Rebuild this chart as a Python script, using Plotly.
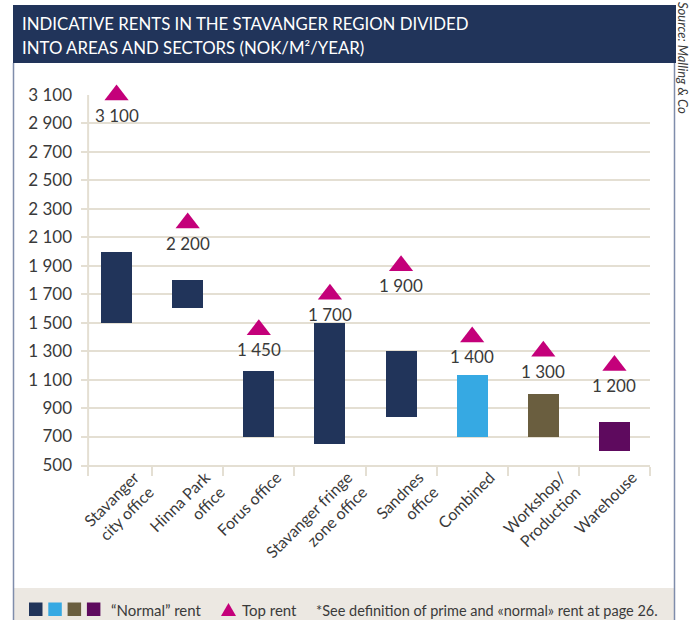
import plotly.graph_objects as go

# ---------------- data ----------------
categories = ["Stavanger<br>city office", "Hinna Park<br>office", "Forus office",
              "Stavanger fringe<br>zone office", "Sandnes<br>office", "Combined",
              "Workshop/<br>Production", "Warehouse"]
normal_low = [1500, 1600, 700, 650, 840, 700, 700, 600]
normal_high = [2000, 1800, 1160, 1500, 1300, 1130, 1000, 800]
top_rent = [3100, 2200, 1450, 1700, 1900, 1400, 1300, 1200]
top_labels = ["3 100", "2 200", "1 450", "1 700", "1 900", "1 400", "1 300", "1 200"]
y_ticks = [500, 700, 900, 1100, 1300, 1500, 1700, 1900, 2100, 2300, 2500, 2700, 2900, 3100]
y_tick_labels = ["500", "700", "900", "1 100", "1 300", "1 500", "1 700", "1 900",
                 "2 100", "2 300", "2 500", "2 700", "2 900", "3 100"]

NAVY = "#21345a"
LIGHTBLUE = "#36a9e3"
OLIVE = "#6a5e3f"
PURPLE = "#5e0a5e"
MAGENTA = "#c4007a"
GRID = "#e4dfd3"
BEIGE = "#ece8e2"
FRAME = "#7f8dab"
TEXT = "#3a3a3a"
FONT = "Lato"

bar_colors = [NAVY, NAVY, NAVY, NAVY, NAVY, LIGHTBLUE, OLIVE, PURPLE]
idx = list(range(len(categories)))

W, H = 691, 620
ML, MR, MT, MB = 81, 41, 95, 155
PW, PH = W - ML - MR, H - MT - MB


def px(x):
    return (x - ML) / PW


def py(y):
    return (H - MB - y) / PH


fig = go.Figure()
fig.add_trace(go.Bar(
    x=idx, y=[h - l for h, l in zip(normal_high, normal_low)], base=normal_low,
    width=0.436, marker=dict(color=bar_colors, line=dict(width=0)),
    showlegend=False, hoverinfo="skip"))
fig.add_trace(go.Scatter(
    x=idx, y=top_rent, mode="markers",
    marker=dict(symbol="triangle-up", size=21, color=MAGENTA),
    cliponaxis=False, showlegend=False, hoverinfo="skip"))

shapes = []
# y-axis line
shapes.append(dict(type="line", xref="x", yref="y", x0=-0.4, x1=-0.4, y0=500, y1=3100,
                   line=dict(color=GRID, width=2), layer="below"))
# header
shapes.append(dict(type="rect", xref="paper", yref="paper", x0=px(13), x1=px(676),
                   y0=py(63), y1=py(5), fillcolor=NAVY, line=dict(width=0)))
# footer band
shapes.append(dict(type="rect", xref="paper", yref="paper", x0=px(13), x1=px(674),
                   y0=py(620), y1=py(588), fillcolor=BEIGE, line=dict(width=0)))
# frame lines
for fx in (13.5, 674.5):
    shapes.append(dict(type="line", xref="paper", yref="paper", x0=px(fx), x1=px(fx),
                       y0=py(63), y1=py(620), line=dict(color=FRAME, width=1.5)))
# legend squares
for i, c in enumerate(bar_colors[4:]):
    x0 = 29 + i * 19.3
    shapes.append(dict(type="rect", xref="paper", yref="paper", x0=px(x0), x1=px(x0 + 13.5),
                       y0=py(616), y1=py(602.5), fillcolor=c, line=dict(width=0)))
# legend triangle
shapes.append(dict(type="path", xref="paper", yref="paper",
                   path="M {} {} L {} {} L {} {} Z".format(px(221), py(616), px(236), py(616),
                                                           px(228.5), py(603)),
                   fillcolor=MAGENTA, line=dict(width=0)))

annotations = [
    dict(text="INDICATIVE RENTS IN THE STAVANGER REGION DIVIDED", x=px(20), y=py(23),
         xref="paper", yref="paper", xanchor="left", yanchor="middle", showarrow=False,
         font=dict(family=FONT, size=16.8, color="white")),
    dict(text="INTO AREAS AND SECTORS (NOK/M²/YEAR)", x=px(20), y=py(47),
         xref="paper", yref="paper", xanchor="left", yanchor="middle", showarrow=False,
         font=dict(family=FONT, size=16.8, color="white")),
    dict(text="Source: Malling &amp; Co", x=px(683), y=py(58), textangle=90,
         xref="paper", yref="paper", xanchor="center", yanchor="middle", showarrow=False,
         font=dict(family=FONT, size=13, color=TEXT, style="italic")),
    dict(text="“Normal” rent", x=px(109), y=py(610), xref="paper", yref="paper",
         xanchor="left", yanchor="middle", showarrow=False,
         font=dict(family=FONT, size=15, color=TEXT)),
    dict(text="Top rent", x=px(240), y=py(610), xref="paper", yref="paper",
         xanchor="left", yanchor="middle", showarrow=False,
         font=dict(family=FONT, size=15, color=TEXT)),
    dict(text="*See definition of prime and «normal» rent at page 26.", x=px(314), y=py(610),
         xref="paper", yref="paper", xanchor="left", yanchor="middle", showarrow=False,
         font=dict(family=FONT, size=14.5, color=TEXT)),
]
# value labels for top rent
for i, (v, lab) in enumerate(zip(top_rent, top_labels)):
    annotations.append(dict(text=lab, x=i, y=v, xref="x", yref="y", yshift=-20,
                            xanchor="center", yanchor="middle", showarrow=False,
                            font=dict(family=FONT, size=17, color=TEXT)))

fig.update_layout(
    width=W, height=H, margin=dict(l=ML, r=MR, t=MT, b=MB, pad=0),
    paper_bgcolor="white", plot_bgcolor="white",
    font=dict(family=FONT, color=TEXT),
    shapes=shapes, annotations=annotations, bargap=0,
    xaxis=dict(range=[-0.5, 7.5], tickmode="array", tickvals=idx, ticktext=categories,
               tickangle=-45, ticks="", showgrid=False, zeroline=False,
               showline=True, linecolor=GRID, linewidth=2,
               tickfont=dict(family=FONT, size=16, color=TEXT),
               ticklabelshift=18, ticklabelstandoff=-5,
               minor=dict(tickmode="array", tickvals=[-0.4, 0.5, 1.5, 2.5, 3.5, 4.5, 5.5, 6.5, 7.5],
                          ticks="outside", ticklen=9, tickwidth=2, tickcolor=GRID, showgrid=False),
               fixedrange=True),
    yaxis=dict(range=[500, 3100], tickmode="array", tickvals=y_ticks, ticktext=y_tick_labels,
               showgrid=True, gridcolor=GRID, gridwidth=2, zeroline=False, showline=False,
               ticks="", ticklabelstandoff=8,
               tickfont=dict(family=FONT, size=17, color=TEXT), fixedrange=True),
)

fig.write_html("out.html", config={"displayModeBar": False},
               post_script="document.body.style.margin='0';document.body.style.overflow='hidden';")
